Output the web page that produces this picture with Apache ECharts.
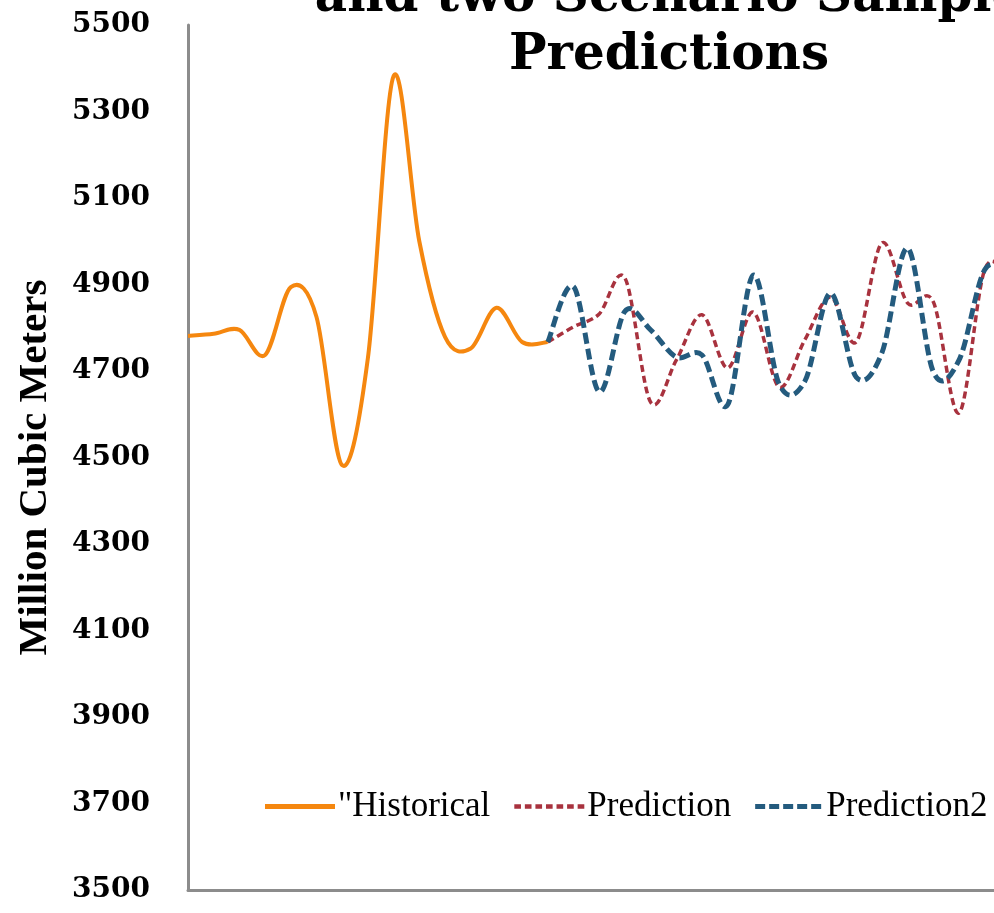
<!DOCTYPE html>
<html>
<head>
<meta charset="utf-8">
<script src="https://cdn.jsdelivr.net/npm/echarts@6/dist/echarts.min.js"></script>
<style>html,body{margin:0;padding:0;background:#fff;overflow:hidden;}#c{width:1040px;height:913px;}</style>
</head>
<body>
<div id="c"></div>
<script>
const categories = ['1','2','3','4','5','6','7','8','9','10','11','12','13','14','15','16','17','18','19','20','21','22','23','24','25','26','27','28','29','30','31','32','33','34'];
const historical = [4781, 4786, 4795, 4737, 4894, 4825, 4482, 4730, 5382, 5000, 4779, 4752, 4846, 4767, 4767];
const prediction = [null,null,null,null,null,null,null,null,null,null,null,null,null,null,
  4767, 4802, 4832, 4915, 4628, 4725, 4830, 4707, 4836, 4663, 4772, 4871, 4767, 4996, 4857, 4860, 4603, 4934, 4910, 4850];
const prediction2 = [null,null,null,null,null,null,null,null,null,null,null,null,null,null,
  4767, 4895, 4652, 4838, 4795, 4732, 4737, 4622, 4922, 4670, 4676, 4880, 4686, 4742, 4984, 4698, 4725, 4934, 4920, 4880];
const yTicks = [3500, 5500, 200];

function toData(arr) {
  const out = [];
  arr.forEach((v, i) => { if (v != null) out.push([i, v]); });
  return out;
}

// smoothed line (Excel-style cardinal spline) drawn through the axis scales
function smoothRenderer(arr, color, width, dash) {
  const data = toData(arr);
  return function (params, api) {
    if (params.dataIndex !== 0) return null;
    const pts = data.map(d => api.coord(d));
    const n = pts.length;
    let path = 'M' + pts[0][0] + ',' + pts[0][1];
    for (let i = 0; i < n - 1; i++) {
      const p0 = pts[Math.max(i - 1, 0)], p1 = pts[i], p2 = pts[i + 1], p3 = pts[Math.min(i + 2, n - 1)];
      const c1x = p1[0] + (p2[0] - p0[0]) / 6, c1y = p1[1] + (p2[1] - p0[1]) / 6;
      const c2x = p2[0] - (p3[0] - p1[0]) / 6, c2y = p2[1] - (p3[1] - p1[1]) / 6;
      path += ' C' + c1x + ',' + c1y + ' ' + c2x + ',' + c2y + ' ' + p2[0] + ',' + p2[1];
    }
    return {
      type: 'path',
      shape: { pathData: path },
      style: { fill: 'none', stroke: color, lineWidth: width, lineDash: dash || null, lineCap: 'butt', lineJoin: 'round' }
    };
  };
}

function dashIcon(dashLen, period, total, h) {
  let p = 'path://';
  for (let x = 0; x + dashLen <= total; x += period) p += 'M' + x + ',0h' + dashLen + 'v' + h + 'h-' + dashLen + 'z';
  return p;
}

const ORANGE = '#F5870F', RED = '#A8323E', BLUE = '#245B7E';

const chart = echarts.init(document.getElementById('c'));
chart.setOption({
  animation: false,
  backgroundColor: '#fff',
  title: {
    text: 'and two Scenario Sample\nPredictions',
    left: 664, top: -36, textAlign: 'center',
    textStyle: { fontFamily: 'DejaVu Serif', fontWeight: 'bold', fontSize: 50, lineHeight: 58, color: '#000' }
  },
  legend: {
    left: 260, top: 784,
    itemWidth: 70, itemHeight: 5, itemGap: 24,
    textStyle: { fontFamily: 'Liberation Serif', fontSize: 35, color: '#000', padding: [0,0,0,-2] },
    data: [
      { name: '"Historical', icon: 'rect' },
      { name: 'Prediction', icon: dashIcon(6, 9.5, 70, 4) },
      { name: 'Prediction2', icon: dashIcon(10, 14, 66, 5) }
    ]
  },
  grid: { left: 188, right: 1040 - (188 + 33 * 25.7), top: 25, bottom: 23, containLabel: false },
  xAxis: {
    type: 'category', data: categories, boundaryGap: false,
    axisLine: { lineStyle: { color: '#8c8c8c', width: 3 } },
    axisTick: { show: false }, axisLabel: { show: false }, splitLine: { show: false }
  },
  yAxis: {
    type: 'value', min: yTicks[0], max: yTicks[1], interval: yTicks[2],
    name: 'Million Cubic Meters', nameLocation: 'middle', nameGap: 132, nameRotate: 90,
    nameTextStyle: { fontFamily: 'Liberation Serif', fontWeight: 'bold', fontSize: 41, color: '#000', padding: [0, 20, 0, 0] },
    axisLine: { show: true, lineStyle: { color: '#8c8c8c', width: 3 } },
    axisTick: { show: false },
    axisLabel: { margin: 38, fontFamily: 'DejaVu Serif', fontWeight: 'bold', fontSize: 28, color: '#000',
      formatter: v => String(v) },
    splitLine: { show: false }
  },
  series: [
    { name: '"Historical', type: 'custom', coordinateSystem: 'cartesian2d', data: toData(historical),
      encode: { x: 0, y: 1 }, itemStyle: { color: ORANGE },
      renderItem: smoothRenderer(historical, ORANGE, 4) },
    { name: 'Prediction', type: 'custom', coordinateSystem: 'cartesian2d', data: toData(prediction),
      encode: { x: 0, y: 1 }, itemStyle: { color: RED },
      renderItem: smoothRenderer(prediction, RED, 3.5, [7, 4]) },
    { name: 'Prediction2', type: 'custom', coordinateSystem: 'cartesian2d', data: toData(prediction2),
      encode: { x: 0, y: 1 }, itemStyle: { color: BLUE },
      renderItem: smoothRenderer(prediction2, BLUE, 5, [11, 5]) }
  ]
});
</script>
</body>
</html>
